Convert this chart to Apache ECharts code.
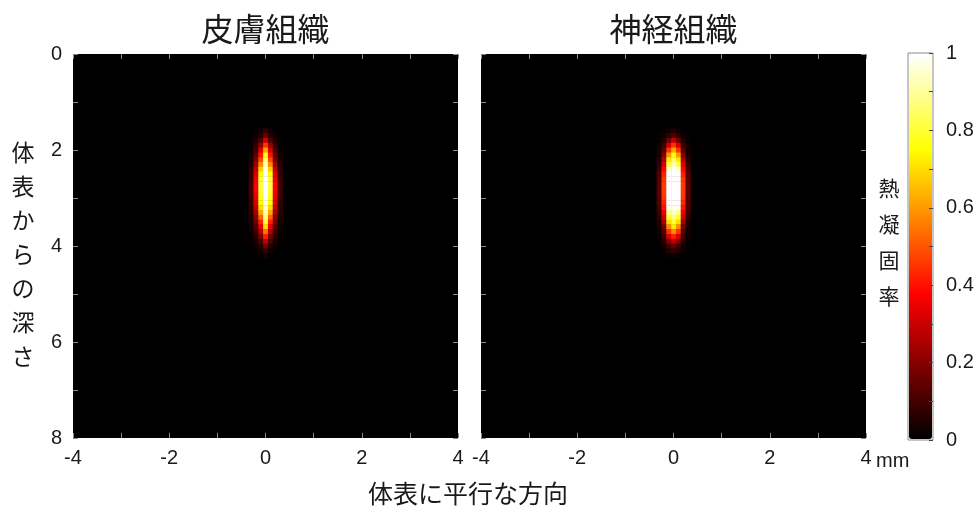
<!DOCTYPE html>
<html>
<head>
<meta charset="utf-8">
<script src="https://cdn.jsdelivr.net/npm/echarts@6/dist/echarts.min.js"></script>
<style>
  html, body { margin: 0; padding: 0; background: #fff; }
  #chart { width: 977px; height: 511px; }
</style>
</head>
<body>
<div id="chart"></div>
<script>
// Panel titles and axis texts
const panelTitles = ['皮膚組織', '神経組織'];
const depthAxisName = '体表からの深さ';
const lateralAxisName = '体表に平行な方向';
const colorbarName = '熱凝固率';

// Cell grid: lateral offsets (mm) and depths (mm) of the coagulated region
const lateralOffsets = [-0.3, -0.2, -0.1, 0, 0.1, 0.2, 0.3];
const depths = [1.6, 1.7, 1.8, 1.9, 2.0, 2.1, 2.2, 2.3, 2.4, 2.5, 2.6, 2.7, 2.8, 2.9,
                3.0, 3.1, 3.2, 3.3, 3.4, 3.5, 3.6, 3.7, 3.8, 3.9, 4.0, 4.1, 4.2];
const cellSize = 0.1;

// Skin: coagulation fraction per depth, by distance from the centre line
const skinCenter = [0.08, 0.15, 0.3, 0.45, 0.62, 0.75, 0.85, 0.93, 0.97, 0.99, 1, 1, 1, 1,
                    0.99, 0.98, 0.96, 0.93, 0.88, 0.8, 0.7, 0.55, 0.42, 0.28, 0.16, 0.08, 0.03];
const skinOff1 = [0.03, 0.06, 0.12, 0.22, 0.32, 0.4, 0.48, 0.58, 0.68, 0.75, 0.8, 0.82, 0.82, 0.8,
                  0.78, 0.75, 0.7, 0.62, 0.52, 0.42, 0.34, 0.26, 0.18, 0.11, 0.06, 0.03, 0.01];
const skinOff2 = [0.01, 0.02, 0.04, 0.07, 0.1, 0.14, 0.18, 0.23, 0.28, 0.32, 0.35, 0.37, 0.37, 0.36,
                  0.34, 0.32, 0.28, 0.24, 0.2, 0.16, 0.12, 0.09, 0.06, 0.04, 0.02, 0.01, 0];
const skinOff3 = [0, 0, 0.01, 0.01, 0.02, 0.03, 0.04, 0.05, 0.07, 0.08, 0.09, 0.1, 0.1, 0.1,
                  0.09, 0.08, 0.07, 0.06, 0.05, 0.04, 0.03, 0.02, 0.01, 0.01, 0, 0, 0];

// Nerve: coagulation fraction per depth, by distance from the centre line
const nerveCenter = [0.05, 0.12, 0.28, 0.45, 0.62, 0.76, 0.85, 0.93, 1, 1, 1, 1, 1, 1,
                     1, 1, 1, 0.95, 0.88, 0.8, 0.72, 0.58, 0.42, 0.28, 0.15, 0.07, 0.02];
const nerveOff1 = [0.03, 0.07, 0.16, 0.3, 0.45, 0.6, 0.72, 0.82, 0.95, 1, 1, 1, 1, 1,
                   1, 1, 0.98, 0.9, 0.8, 0.7, 0.58, 0.45, 0.32, 0.2, 0.1, 0.05, 0.01];
const nerveOff2 = [0.01, 0.02, 0.05, 0.09, 0.14, 0.2, 0.26, 0.32, 0.38, 0.42, 0.45, 0.46, 0.46, 0.46,
                   0.45, 0.43, 0.4, 0.35, 0.3, 0.24, 0.18, 0.13, 0.09, 0.06, 0.03, 0.01, 0];
const nerveOff3 = [0, 0.01, 0.01, 0.02, 0.03, 0.04, 0.06, 0.08, 0.1, 0.12, 0.13, 0.14, 0.14, 0.14,
                   0.13, 0.12, 0.11, 0.09, 0.07, 0.05, 0.04, 0.03, 0.02, 0.01, 0.01, 0, 0];

// Colour scale (hot)
const hotColors = ['#000000', '#550000', '#aa0000', '#ff0000', '#ff5500',
                   '#ffaa00', '#ffff00', '#ffff80', '#ffffff'];

// Build [x, depth, value] cells; the profile is the same on both sides of the centre line
function buildCells(center, off1, off2, off3) {
  const byColumn = [off3, off2, off1, center, off1, off2, off3];
  const cells = [];
  lateralOffsets.forEach((x, j) => {
    depths.forEach((d, i) => {
      cells.push([x, d, byColumn[j][i]]);
    });
  });
  return cells;
}
const skinCells = buildCells(skinCenter, skinOff1, skinOff2, skinOff3);
const nerveCells = buildCells(nerveCenter, nerveOff1, nerveOff2, nerveOff3);

const NUM_FONT = '"Liberation Sans", Arial, sans-serif';
const CJK_FONT = '"Noto Sans CJK JP", "Noto Sans", sans-serif';
const TEXT_COLOR = '#1a1a1a';
const NUM_SIZE = 20;

const panels = [
  { left: 73, top: 54, width: 385, height: 384 },
  { left: 481, top: 54, width: 385, height: 384 }
];
const bar = { left: 909, top: 54, width: 23, height: 385 };

function evenLabel(v) {
  return Math.round(v) % 2 === 0 ? String(v) : '';
}

const tickStyle = { show: true, inside: true, length: 5, lineStyle: { color: '#8a8a8a', width: 1 } };
const noLine = { show: false, onZero: false };

function xAxisFor(gridIndex, position, withLabels) {
  return {
    type: 'value', gridIndex: gridIndex, position: position,
    min: -4, max: 4, interval: 1,
    axisLine: noLine, splitLine: { show: false },
    axisTick: tickStyle,
    axisLabel: withLabels ? {
      show: true, formatter: evenLabel, fontSize: NUM_SIZE, fontFamily: NUM_FONT,
      color: TEXT_COLOR, margin: 10, showMinLabel: true, showMaxLabel: true
    } : { show: false }
  };
}
function yAxisFor(gridIndex, position, withLabels) {
  return {
    type: 'value', gridIndex: gridIndex, position: position, inverse: true,
    min: 0, max: 8, interval: 1,
    axisLine: noLine, splitLine: { show: false },
    axisTick: tickStyle,
    axisLabel: withLabels ? {
      show: true, formatter: evenLabel, fontSize: NUM_SIZE, fontFamily: NUM_FONT,
      color: TEXT_COLOR, margin: 11, showMinLabel: true, showMaxLabel: true
    } : { show: false }
  };
}

function renderCell(params, api) {
  const h = cellSize / 2;
  const p0 = api.coord([api.value(0) - h, api.value(1) - h]);
  const p1 = api.coord([api.value(0) + h, api.value(1) + h]);
  return {
    type: 'rect',
    shape: {
      x: Math.min(p0[0], p1[0]), y: Math.min(p0[1], p1[1]),
      width: Math.abs(p1[0] - p0[0]) + 0.4, height: Math.abs(p1[1] - p0[1]) + 0.4
    },
    style: { fill: api.visual('color') }
  };
}

const chart = echarts.init(document.getElementById('chart'), null, { renderer: 'canvas' });

chart.setOption({
  backgroundColor: '#ffffff',
  animation: false,
  grid: [
    Object.assign({ show: true, backgroundColor: '#000', borderWidth: 0 }, panels[0]),
    Object.assign({ show: true, backgroundColor: '#000', borderWidth: 0 }, panels[1]),
    { left: bar.left - 1, top: bar.top - 1, width: bar.width + 2, height: bar.height + 2,
      show: true, backgroundColor: 'transparent', borderColor: '#8c8c8c', borderWidth: 1, z: 10 }
  ],
  xAxis: [
    xAxisFor(0, 'bottom', true), xAxisFor(0, 'top', false),
    xAxisFor(1, 'bottom', true), xAxisFor(1, 'top', false),
    { type: 'value', gridIndex: 2, min: 0, max: 1, show: false }
  ],
  yAxis: [
    yAxisFor(0, 'left', true), yAxisFor(0, 'right', false),
    yAxisFor(1, 'left', false), yAxisFor(1, 'right', false),
    {
      type: 'value', gridIndex: 2, position: 'right', min: 0, max: 1, interval: 0.1, z: 10,
      axisLine: noLine, splitLine: { show: false },
      axisTick: { show: true, inside: true, length: 4, lineStyle: { color: '#444' } },
      axisLabel: {
        fontSize: NUM_SIZE, fontFamily: NUM_FONT, color: TEXT_COLOR, margin: 13,
        formatter: v => (Math.round(v * 10) % 2 === 0 ? String(Math.round(v * 10) / 10) : '')
      }
    }
  ],
  visualMap: {
    type: 'continuous', min: 0, max: 1, dimension: 2, seriesIndex: [0, 1],
    calculable: false, hoverLink: false, orient: 'vertical',
    left: bar.left, top: bar.top, itemWidth: bar.width, itemHeight: bar.height,
    padding: 0, text: null, showLabel: false,
    inRange: { color: hotColors }
  },
  series: [
    {
      type: 'custom', name: panelTitles[0], coordinateSystem: 'cartesian2d',
      xAxisIndex: 0, yAxisIndex: 0, clip: true,
      encode: { x: 0, y: 1 }, renderItem: renderCell, data: skinCells
    },
    {
      type: 'custom', name: panelTitles[1], coordinateSystem: 'cartesian2d',
      xAxisIndex: 2, yAxisIndex: 2, clip: true,
      encode: { x: 0, y: 1 }, renderItem: renderCell, data: nerveCells
    }
  ],
  graphic: [
    { type: 'text', x: panels[0].left + panels[0].width / 2, y: 29,
      style: { text: panelTitles[0], font: '32px ' + CJK_FONT, fill: TEXT_COLOR, align: 'center', verticalAlign: 'middle' } },
    { type: 'text', x: panels[1].left + panels[1].width / 2, y: 29,
      style: { text: panelTitles[1], font: '32px ' + CJK_FONT, fill: TEXT_COLOR, align: 'center', verticalAlign: 'middle' } },
    { type: 'text', x: 23, y: 254,
      style: { text: depthAxisName.split('').join('\n'), font: '23px ' + CJK_FONT, lineHeight: 34,
               fill: TEXT_COLOR, align: 'center', verticalAlign: 'middle' } },
    { type: 'text', x: 468, y: 493,
      style: { text: lateralAxisName, font: '25px ' + CJK_FONT, fill: TEXT_COLOR, align: 'center', verticalAlign: 'middle' } },
    { type: 'text', x: 889, y: 242,
      style: { text: colorbarName.split('').join('\n'), font: '21px ' + CJK_FONT, lineHeight: 36,
               fill: TEXT_COLOR, align: 'center', verticalAlign: 'middle' } },
    { type: 'text', x: 876, y: 461,
      style: { text: 'mm', font: NUM_SIZE + 'px ' + NUM_FONT, fill: TEXT_COLOR, align: 'left', verticalAlign: 'middle' } }
  ]
});
</script>
</body>
</html>
